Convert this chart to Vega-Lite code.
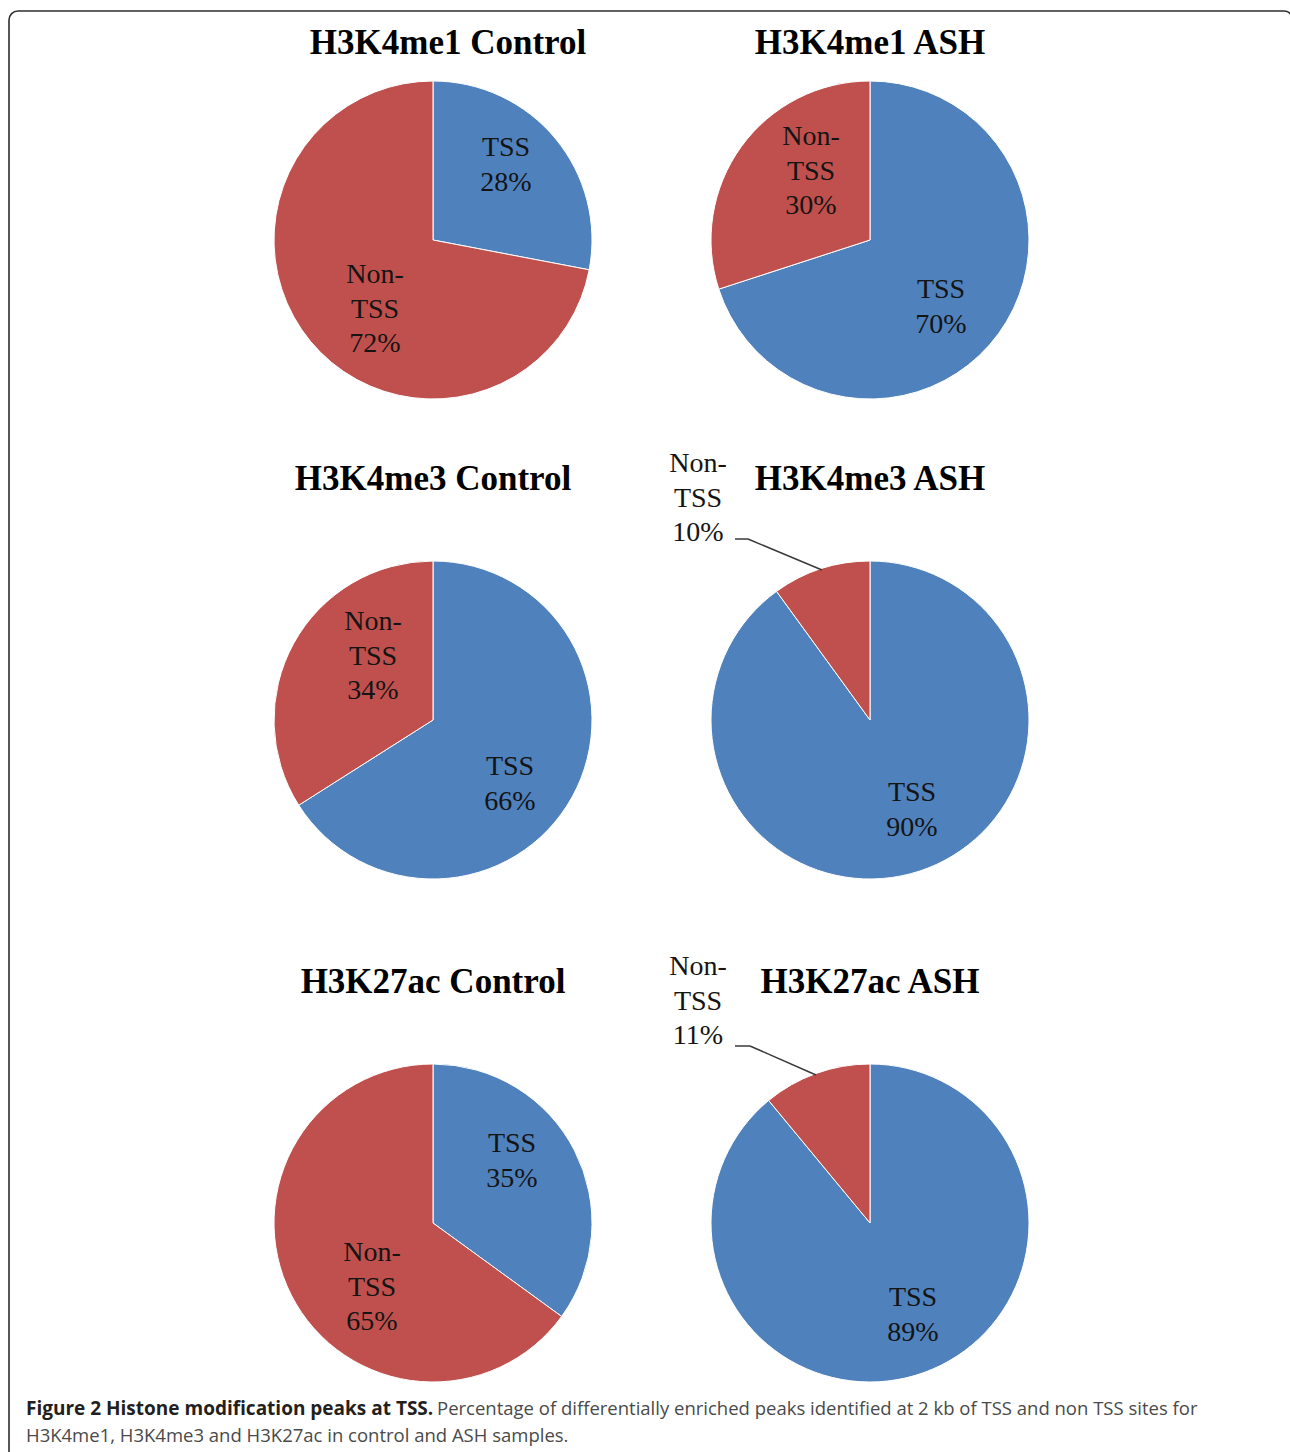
{
  "$schema": "https://vega.github.io/schema/vega-lite/v6.json",
  "width": 1284,
  "height": 1453,
  "autosize": {"type": "none"},
  "padding": {"left": 9, "top": 11, "right": -3, "bottom": -12},
  "background": "#ffffff",
  "config": {
    "view": {"stroke": "#2e2e2e", "strokeWidth": 1.6, "cornerRadius": 9, "fill": "#ffffff"},
    "text": {"font": "Liberation Serif", "fontSize": 28, "lineHeight": 34.5, "lineBreak": "\n", "baseline": "middle", "align": "center", "color": "#141414"}
  },
  "layer": [
    {
      "data": {
        "values": [
          {"panel": "H3K4me1 Control", "col": 0, "row": 0, "category": "TSS", "value": 28, "label": "TSS\n28%"},
          {"panel": "H3K4me1 Control", "col": 0, "row": 0, "category": "Non-TSS", "value": 72, "label": "Non-\nTSS\n72%"},
          {"panel": "H3K4me1 ASH", "col": 1, "row": 0, "category": "TSS", "value": 70, "label": "TSS\n70%"},
          {"panel": "H3K4me1 ASH", "col": 1, "row": 0, "category": "Non-TSS", "value": 30, "label": "Non-\nTSS\n30%"},
          {"panel": "H3K4me3 Control", "col": 0, "row": 1, "category": "TSS", "value": 66, "label": "TSS\n66%"},
          {"panel": "H3K4me3 Control", "col": 0, "row": 1, "category": "Non-TSS", "value": 34, "label": "Non-\nTSS\n34%"},
          {"panel": "H3K4me3 ASH", "col": 1, "row": 1, "category": "TSS", "value": 90, "label": "TSS\n90%"},
          {"panel": "H3K4me3 ASH", "col": 1, "row": 1, "category": "Non-TSS", "value": 10, "label": "Non-\nTSS\n10%"},
          {"panel": "H3K27ac Control", "col": 0, "row": 2, "category": "TSS", "value": 35, "label": "TSS\n35%"},
          {"panel": "H3K27ac Control", "col": 0, "row": 2, "category": "Non-TSS", "value": 65, "label": "Non-\nTSS\n65%"},
          {"panel": "H3K27ac ASH", "col": 1, "row": 2, "category": "TSS", "value": 89, "label": "TSS\n89%"},
          {"panel": "H3K27ac ASH", "col": 1, "row": 2, "category": "Non-TSS", "value": 11, "label": "Non-\nTSS\n11%"}
        ]
      },
      "encoding": {
        "x": {"field": "col", "type": "quantitative", "axis": null, "scale": {"domain": [0, 1], "range": [424, 861], "nice": false, "zero": false}},
        "y": {"field": "row", "type": "quantitative", "axis": null, "scale": {"domain": [0, 1, 2], "range": [229, 709, 1212], "nice": false, "zero": false}}
      },
      "layer": [
        {
          "transform": [{"stack": "value", "groupby": ["panel"], "sort": [{"field": "category", "order": "descending"}], "as": ["v0", "v1"]}],
          "mark": {"type": "arc", "outerRadius": 159, "stroke": "#ffffff", "strokeWidth": 1},
          "encoding": {
            "theta": {"field": "v0", "type": "quantitative", "stack": null, "scale": {"domain": [0, 100]}},
            "theta2": {"field": "v1"},
            "color": {"field": "category", "type": "nominal", "scale": {"domain": ["TSS", "Non-TSS"], "range": ["#4F81BD", "#C0504D"]}, "legend": null}
          }
        },
        {"transform": [{"filter": "datum.panel == 'H3K4me1 Control' && datum.category == 'TSS'"}], "mark": {"type": "text", "dx": 73, "dy": -92}, "encoding": {"text": {"field": "label"}}},
        {"transform": [{"filter": "datum.panel == 'H3K4me1 Control' && datum.category == 'Non-TSS'"}], "mark": {"type": "text", "dx": -58, "dy": 35}, "encoding": {"text": {"field": "label"}}},
        {"transform": [{"filter": "datum.panel == 'H3K4me1 ASH' && datum.category == 'Non-TSS'"}], "mark": {"type": "text", "dx": -59, "dy": -103}, "encoding": {"text": {"field": "label"}}},
        {"transform": [{"filter": "datum.panel == 'H3K4me1 ASH' && datum.category == 'TSS'"}], "mark": {"type": "text", "dx": 71, "dy": 50}, "encoding": {"text": {"field": "label"}}},
        {"transform": [{"filter": "datum.panel == 'H3K4me3 Control' && datum.category == 'Non-TSS'"}], "mark": {"type": "text", "dx": -60, "dy": -98}, "encoding": {"text": {"field": "label"}}},
        {"transform": [{"filter": "datum.panel == 'H3K4me3 Control' && datum.category == 'TSS'"}], "mark": {"type": "text", "dx": 77, "dy": 47}, "encoding": {"text": {"field": "label"}}},
        {"transform": [{"filter": "datum.panel == 'H3K4me3 ASH' && datum.category == 'Non-TSS'"}], "mark": {"type": "text", "dx": -172, "dy": -256}, "encoding": {"text": {"field": "label"}}},
        {"transform": [{"filter": "datum.panel == 'H3K4me3 ASH' && datum.category == 'TSS'"}], "mark": {"type": "text", "dx": 42, "dy": 73}, "encoding": {"text": {"field": "label"}}},
        {"transform": [{"filter": "datum.panel == 'H3K27ac Control' && datum.category == 'TSS'"}], "mark": {"type": "text", "dx": 79, "dy": -79}, "encoding": {"text": {"field": "label"}}},
        {"transform": [{"filter": "datum.panel == 'H3K27ac Control' && datum.category == 'Non-TSS'"}], "mark": {"type": "text", "dx": -61, "dy": 30}, "encoding": {"text": {"field": "label"}}},
        {"transform": [{"filter": "datum.panel == 'H3K27ac ASH' && datum.category == 'Non-TSS'"}], "mark": {"type": "text", "dx": -172, "dy": -256}, "encoding": {"text": {"field": "label"}}},
        {"transform": [{"filter": "datum.panel == 'H3K27ac ASH' && datum.category == 'TSS'"}], "mark": {"type": "text", "dx": 43, "dy": 75}, "encoding": {"text": {"field": "label"}}},
        {
          "transform": [{"filter": "datum.panel == 'H3K4me3 ASH' && datum.category == 'Non-TSS'"}],
          "mark": {"type": "rule", "color": "#3a3a3a", "strokeWidth": 1.5, "xOffset": -135, "yOffset": -181, "x2Offset": -122, "y2Offset": -181},
          "encoding": {"x2": {"field": "col"}, "y2": {"field": "row"}}
        },
        {
          "transform": [{"filter": "datum.panel == 'H3K4me3 ASH' && datum.category == 'Non-TSS'"}],
          "mark": {"type": "rule", "color": "#3a3a3a", "strokeWidth": 1.5, "xOffset": -122, "yOffset": -181, "x2Offset": -48, "y2Offset": -150},
          "encoding": {"x2": {"field": "col"}, "y2": {"field": "row"}}
        },
        {
          "transform": [{"filter": "datum.panel == 'H3K27ac ASH' && datum.category == 'Non-TSS'"}],
          "mark": {"type": "rule", "color": "#3a3a3a", "strokeWidth": 1.5, "xOffset": -135, "yOffset": -177, "x2Offset": -120, "y2Offset": -177},
          "encoding": {"x2": {"field": "col"}, "y2": {"field": "row"}}
        },
        {
          "transform": [{"filter": "datum.panel == 'H3K27ac ASH' && datum.category == 'Non-TSS'"}],
          "mark": {"type": "rule", "color": "#3a3a3a", "strokeWidth": 1.5, "xOffset": -120, "yOffset": -177, "x2Offset": -54, "y2Offset": -148},
          "encoding": {"x2": {"field": "col"}, "y2": {"field": "row"}}
        },
        {
          "transform": [{"filter": "datum.category == 'TSS' && datum.panel == 'H3K4me1 Control'"}],
          "mark": {"type": "text", "dx": 15, "dy": -186, "fontWeight": "bold", "fontSize": 35, "baseline": "alphabetic", "color": "#000000"},
          "encoding": {"text": {"field": "panel"}}
        },
        {
          "transform": [{"filter": "datum.category == 'TSS' && datum.panel == 'H3K4me1 ASH'"}],
          "mark": {"type": "text", "dx": 0, "dy": -186, "fontWeight": "bold", "fontSize": 35, "baseline": "alphabetic", "color": "#000000"},
          "encoding": {"text": {"field": "panel"}}
        },
        {
          "transform": [{"filter": "datum.category == 'TSS' && datum.row > 0"}],
          "mark": {"type": "text", "dx": 0, "dy": -230, "fontWeight": "bold", "fontSize": 35, "baseline": "alphabetic", "color": "#000000"},
          "encoding": {"text": {"field": "panel"}}
        }
      ]
    },
    {
      "data": {"values": [{"t": "Figure 2 Histone modification peaks at TSS."}]},
      "mark": {"type": "text", "font": "Open Sans", "fontSize": 19, "fontWeight": "bold", "align": "left", "baseline": "alphabetic", "color": "#231f20", "dx": -407, "dy": 191.5},
      "encoding": {"x": {"datum": 0, "type": "quantitative"}, "y": {"datum": 2, "type": "quantitative"}, "text": {"field": "t"}}
    },
    {
      "data": {"values": [{"t": "Percentage of differentially enriched peaks identified at 2 kb of TSS and non TSS sites for"}]},
      "mark": {"type": "text", "font": "Open Sans", "fontSize": 18.5, "align": "left", "baseline": "alphabetic", "color": "#4a4a4a", "dx": 4, "dy": 191.5},
      "encoding": {"x": {"datum": 0, "type": "quantitative"}, "y": {"datum": 2, "type": "quantitative"}, "text": {"field": "t"}}
    },
    {
      "data": {"values": [{"t": "H3K4me1, H3K4me3 and H3K27ac in control and ASH samples."}]},
      "mark": {"type": "text", "font": "Open Sans", "fontSize": 18.5, "align": "left", "baseline": "alphabetic", "color": "#4a4a4a", "dx": -407, "dy": 218.5},
      "encoding": {"x": {"datum": 0, "type": "quantitative"}, "y": {"datum": 2, "type": "quantitative"}, "text": {"field": "t"}}
    }
  ]
}
